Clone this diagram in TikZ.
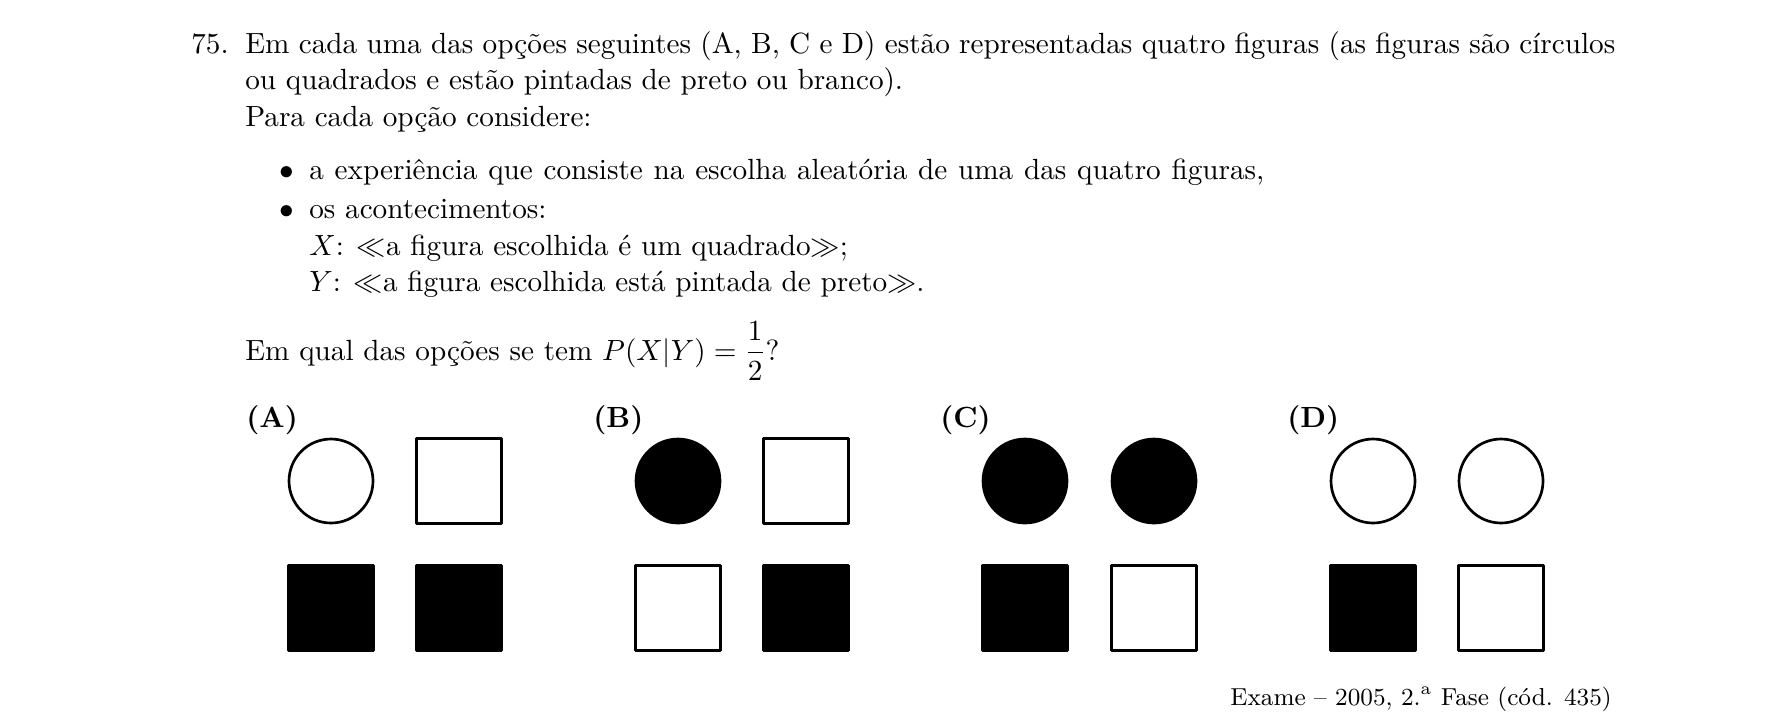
\documentclass[11pt,tikz,border=0pt]{standalone}
\usepackage{amsmath}

\newdimen\pxu \pxu=0.375pt
\tikzset{every picture/.style={line width=1pt}}
\tikzset{preto/.style={fill=black,line join=round},branco/.style={fill=white,line join=round}}

\begin{document}
\begin{tikzpicture}[x=0.375pt,y=0.375pt,yscale=-1]
		\useasboundingbox (0,0) rectangle (1785,711);

		% Text Node
		\draw (190,53) node[anchor=base west,inner sep=0] (num) {75.};
		% Text Node
		\draw (244,53) node[anchor=base west,inner sep=0] (linha1) {\hbox to 1370\pxu{Em cada uma das opções seguintes (A, B, C e D) estão representadas quatro figuras (as figuras são círculos}};
		% Text Node
		\draw (244,89) node[anchor=base west,inner sep=0] (linha2) {ou quadrados e estão pintadas de preto ou branco).};
		% Text Node
		\draw (244,126) node[anchor=base west,inner sep=0] (linha3) {Para cada opção considere:};
		% Text Node
		\draw (278,179) node[anchor=base west,inner sep=0] (bul1) {$\bullet$};
		\draw (308,179) node[anchor=base west,inner sep=0] (item1) {\hbox to 955\pxu{a experiência que consiste na escolha aleatória de uma das quatro figuras,}};
		% Text Node
		\draw (278,218.5) node[anchor=base west,inner sep=0] (bul2) {$\bullet$};
		\draw (308,218.5) node[anchor=base west,inner sep=0] (item2) {os acontecimentos:};
		% Text Node
		\draw (308,255) node[anchor=base west,inner sep=0] (acontX) {$X$: $\ll$a figura escolhida é um quadrado$\gg$;};
		% Text Node
		\draw (308,291) node[anchor=base west,inner sep=0] (acontY) {$Y$: $\ll$a figura escolhida está pintada de preto$\gg$.};
		% Text Node
		\draw (244,360) node[anchor=base west,inner sep=0] (pergunta) {Em qual das opções se tem $P(X|Y)=\dfrac{1}{2}$?};

		% Text Node
		\draw (245,427) node[anchor=base west,inner sep=0] (optA) {\textbf{(A)}};
		% Text Node
		\draw (592,427) node[anchor=base west,inner sep=0] (optB) {\textbf{(B)}};
		% Text Node
		\draw (939,427) node[anchor=base west,inner sep=0] (optC) {\textbf{(C)}};
		% Text Node
		\draw (1286,427) node[anchor=base west,inner sep=0] (optD) {\textbf{(D)}};

		%Shape: Circle [A]
		\draw[branco] (331,481) circle (42);
		%Shape: Rectangle [A]
		\draw[branco] (416.5,438.5) -- (501.5,438.5) -- (501.5,523.5) -- (416.5,523.5) -- cycle ;
		%Shape: Rectangle [A]
		\draw[preto] (288.5,565.5) -- (373.5,565.5) -- (373.5,650.5) -- (288.5,650.5) -- cycle ;
		%Shape: Rectangle [A]
		\draw[preto] (416.5,565.5) -- (501.5,565.5) -- (501.5,650.5) -- (416.5,650.5) -- cycle ;

		%Shape: Circle [B]
		\draw[preto] (678,481) circle (42);
		%Shape: Rectangle [B]
		\draw[branco] (763.5,438.5) -- (848.5,438.5) -- (848.5,523.5) -- (763.5,523.5) -- cycle ;
		%Shape: Rectangle [B]
		\draw[branco] (635.5,565.5) -- (720.5,565.5) -- (720.5,650.5) -- (635.5,650.5) -- cycle ;
		%Shape: Rectangle [B]
		\draw[preto] (763.5,565.5) -- (848.5,565.5) -- (848.5,650.5) -- (763.5,650.5) -- cycle ;

		%Shape: Circle [C]
		\draw[preto] (1025,481) circle (42);
		%Shape: Circle [C]
		\draw[preto] (1154,481) circle (42);
		%Shape: Rectangle [C]
		\draw[preto] (982.5,565.5) -- (1067.5,565.5) -- (1067.5,650.5) -- (982.5,650.5) -- cycle ;
		%Shape: Rectangle [C]
		\draw[branco] (1111.5,565.5) -- (1196.5,565.5) -- (1196.5,650.5) -- (1111.5,650.5) -- cycle ;

		%Shape: Circle [D]
		\draw[branco] (1373,481) circle (42);
		%Shape: Circle [D]
		\draw[branco] (1501,481) circle (42);
		%Shape: Rectangle [D]
		\draw[preto] (1330.5,565.5) -- (1415.5,565.5) -- (1415.5,650.5) -- (1330.5,650.5) -- cycle ;
		%Shape: Rectangle [D]
		\draw[branco] (1458.5,565.5) -- (1543.5,565.5) -- (1543.5,650.5) -- (1458.5,650.5) -- cycle ;

		% Text Node
		\draw (1613,705) node[anchor=base east,inner sep=0,font=\fontsize{9.2}{11}\selectfont] (fonte) {Exame -- 2005, 2.\textsuperscript{a} Fase (cód. 435)};

		\end{tikzpicture}
\end{document}
